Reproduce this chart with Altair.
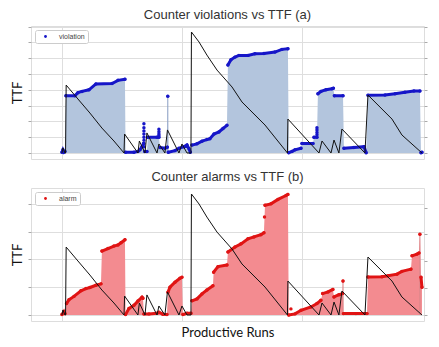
import altair as alt
import pandas as pd

# ---------------- data ----------------
# TTF sawtooth (shared by both panels)
ttf_runs = [0, 8, 25, 30, 35, 133, 233, 333, 433, 517, 522, 633, 645, 692, 708, 792, 808, 858,
            879, 975, 1000, 1042, 1075, 1079, 1142, 1208, 1292, 1417, 1500, 1692, 1879,
            1883, 2142, 2167, 2242, 2267, 2308, 2333, 2525, 2550, 2750, 2833, 3000]
ttf_vals = [0, 32, 0, 0, 430, 342, 253, 158, 76, 0, 120, 0, 76, 0, 127, 0, 57, 0,
            146, 0, 57, 0, 0, 766, 703, 620, 525, 418, 323, 177, 0,
            215, 0, 76, 0, 82, 0, 152, 0, 367, 215, 114, 0]

# Counter violations (panel a)
viol_runs = [0, 8, 17, 25,
             33, 108, 133, 167, 225, 283, 417, 467, 525,
             530, 600, 633, 650, 667, 680,
             690, 708,
             716, 792, 808,
             817, 858, 878,
             882,
             886, 942, 975, 1017, 1042, 1058, 1070,
             1083, 1125, 1167, 1208, 1233, 1267, 1308, 1342, 1375,
             1383, 1408, 1442, 1475, 1550, 1608, 1683, 1775, 1833, 1883,
             1890, 1917, 1942, 1992,
             2000, 2092,
             2100, 2125,
             2133, 2158, 2200, 2250, 2262,
             2270, 2342,
             2350, 2433, 2517, 2535,
             2550, 2692, 2775, 2858, 2933, 2983,
             2992, 3000]
viol_vals = [0.05, 0.2, 0.05, 0.1,
             3.63, 3.63, 3.82, 3.9, 4.0, 4.37, 4.4, 4.6, 4.67,
             0.05, 0.05, 0.1, 0.2, 0.4, 0.6,
             0.1, 0.1,
             1.0, 1.0, 1.0,
             0.35, 0.3, 0.37,
             3.6,
             0.05, 0.15, 0.3, 0.4, 0.5, 0.28, 0.05,
             0.5, 0.58, 0.75, 0.85, 0.9, 1.2, 1.33, 1.55, 1.75,
             5.57, 5.9, 6.07, 6.18, 6.18, 6.28, 6.3, 6.39, 6.56, 6.6,
             0.02, 0.1, 0.2, 0.3,
             0.6, 0.6,
             1.0, 1.0,
             3.75, 3.9, 4.0, 4.07, 4.1,
             3.62, 3.62,
             0.3, 0.35, 0.4, 0.02,
             3.65, 3.67, 3.75, 3.85, 3.92, 3.92,
             0.02, 0.05]
viol_segs = [0, 0, 0, 0,
             1, 1, 1, 1, 1, 1, 1, 1, 1,
             2, 2, 2, 2, 2, 2,
             3, 3,
             4, 4, 4,
             5, 5, 5,
             6,
             7, 7, 7, 7, 7, 7, 7,
             8, 8, 8, 8, 8, 8, 8, 8, 8,
             9, 9, 9, 9, 9, 9, 9, 9, 9, 9,
             10, 10, 10, 10,
             11, 11,
             12, 12,
             13, 13, 13, 13, 13,
             14, 14,
             15, 15, 15, 15,
             16, 16, 16, 16, 16, 16,
             17, 17]
viol_dot_runs = [683, 683, 683, 683, 683, 683, 683, 683, 808, 808, 808, 808, 2125, 2125, 2125, 2125]
viol_dot_vals = [0.4, 0.6, 0.8, 1.0, 1.2, 1.4, 1.6, 1.85, 1.1, 1.2, 1.35, 1.5, 1.15, 1.3, 1.45, 1.6]

# Counter alarms (panel b)
alarm_runs = [0, 8, 17, 25,
              38, 58, 100, 158, 200, 233, 283, 325,
              333, 383, 433, 467, 492, 525,
              530, 558, 600, 633, 667, 675,
              683, 725, 792, 808, 840, 875,
              883, 900, 942, 983, 1000,
              1008, 1042, 1075,
              1083, 1125, 1167, 1208, 1258,
              1264, 1300, 1375,
              1383, 1442, 1492, 1550, 1600, 1658, 1683,
              1692, 1742, 1800, 1867, 1883,
              1890, 1942, 1992, 2075, 2125, 2158,
              2172, 2217, 2258,
              2267, 2308, 2338,
              2342,
              2346, 2450, 2542,
              2550, 2667, 2717, 2792, 2833, 2908,
              2917, 2958, 2975,
              2983,
              2992, 3000]
alarm_vals = [0.02, 0.05, 0.12, 0.05,
              0.41, 0.55, 0.67, 0.87, 0.95, 0.99, 1.07, 1.12,
              2.3, 2.39, 2.48, 2.52, 2.6, 2.71,
              0.02, 0.23, 0.35, 0.5, 0.64, 0.6,
              0.04, 0.04, 0.06, 0.1, 0.03, 0.02,
              0.82, 1.0, 1.18, 1.32, 1.36,
              0.02, 0.06, 0.06,
              0.51, 0.58, 0.76, 0.9, 1.05,
              1.54, 1.74, 1.8,
              2.27, 2.45, 2.56, 2.74, 2.81, 2.89, 2.96,
              3.95, 4.0, 4.16, 4.3, 4.34,
              0.0, 0.04, 0.17, 0.29, 0.41, 0.53,
              0.77, 0.83, 0.92,
              0.65, 0.73, 0.77,
              1.22,
              0.05, 0.05, 0.05,
              1.37, 1.38, 1.41, 1.47, 1.57, 1.65,
              2.13, 2.19, 2.23,
              2.91,
              1.36, 1.0]
alarm_segs = [0, 0, 0, 0,
              1, 1, 1, 1, 1, 1, 1, 1,
              2, 2, 2, 2, 2, 2,
              3, 3, 3, 3, 3, 3,
              4, 4, 4, 4, 4, 4,
              5, 5, 5, 5, 5,
              6, 6, 6,
              7, 7, 7, 7, 7,
              8, 8, 8,
              9, 9, 9, 9, 9, 9, 9,
              10, 10, 10, 10, 10,
              11, 11, 11, 11, 11, 11,
              12, 12, 12,
              13, 13, 13,
              14,
              15, 15, 15,
              16, 16, 16, 16, 16, 16,
              17, 17, 17,
              18,
              19, 19]
alarm_dot_runs = [1688, 1908]
alarm_dot_vals = [3.53, 0.22]

X_TICKS = [0, 1000, 2000]

# ---------------- chart ----------------
X_DOMAIN = [-258, 3017]
GRID = "#dedede"


def panel(runs, vals, segs, dot_runs, dot_vals, series, dot_color, fill_color, spike_color,
          cdomain, cticks, ttf_ticks, title, x_title):
    main = pd.DataFrame({"run": runs, "val": vals, "seg": segs, "series": series})
    dots = pd.DataFrame({"run": dot_runs, "val": dot_vals, "seg": -1, "series": series})
    ttf = pd.DataFrame({"run": ttf_runs, "ttf": ttf_vals})
    # isolated single-point segments are spikes: draw them as thin rules
    counts = main.groupby("seg")["seg"].transform("size")
    spikes = main[counts == 1]

    x_axis_kw = dict(labels=False, ticks=False, domain=False, grid=True, values=X_TICKS,
                     gridColor=GRID, titleFont="Lato", titleFontSize=13,
                     titleFontWeight="normal", titleColor="#111", titlePadding=5,
                     title=x_title if x_title else "")
    x = alt.X("run:Q", scale=alt.Scale(domain=X_DOMAIN, nice=False, zero=False),
              axis=alt.Axis(**x_axis_kw))
    yc = alt.Y("val:Q", scale=alt.Scale(domain=cdomain, nice=False, zero=False),
               axis=alt.Axis(title="TTF", labels=False, ticks=True, tickSize=3,
                             tickColor="#aaaaaa", domain=False, values=cticks, grid=True,
                             gridColor=GRID, titleFont="Lato", titleFontSize=13,
                             titleFontWeight="normal", titleColor="#111", titlePadding=3))

    area = alt.Chart(main).mark_area(color=fill_color, opacity=1).encode(x=x, y=yc)
    spike = alt.Chart(spikes).mark_rule(color=spike_color, strokeWidth=1).encode(
        x=x, y=yc, y2=alt.datum(0))
    line = alt.Chart(main).mark_line(color=dot_color, strokeWidth=3, strokeCap="round").encode(
        x=x, y=yc, detail="seg:N")
    pts = alt.Chart(pd.concat([main, dots])).mark_circle(size=12, opacity=1).encode(
        x=x, y=yc,
        color=alt.Color("series:N", scale=alt.Scale(domain=[series], range=[dot_color]),
                        legend=alt.Legend(title=None, orient="top-left", offset=4, padding=3,
                                          fillColor="white", strokeColor="#cccccc",
                                          cornerRadius=2, labelFontSize=7, labelColor="#444",
                                          labelFont="Liberation Sans", symbolSize=8,
                                          symbolType="circle", labelOffset=10,
                                          symbolOffset=4)))
    tline = alt.Chart(ttf).mark_line(color="#111111", strokeWidth=1).encode(
        x=x,
        y=alt.Y("ttf:Q", scale=alt.Scale(domain=[-38, 804], nice=False, zero=False),
                axis=alt.Axis(orient="right", title="", labels=False, ticks=True, tickSize=3,
                              tickColor="#aaaaaa", domain=False, grid=False, values=ttf_ticks)))

    return alt.layer(alt.layer(area, spike, line, pts), tline).resolve_scale(
        y="independent").properties(
        width=393, height=133,
        title=alt.TitleParams(title, fontSize=13, font="Liberation Sans", fontWeight="normal",
                              color="#333", offset=4, frame="group", anchor="middle"))


top = panel(viol_runs, viol_vals, viol_segs, viol_dot_runs, viol_dot_vals, "violation",
            "#1616c8", "#b3c5dd", "#8a9fc4", [-0.38, 8.04], [0, 1, 2, 3, 4, 5, 6, 7, 8],
            [0, 100, 200, 300, 400, 500, 600, 700, 800],
            "Counter violations vs TTF (a)", None)
bottom = panel(alarm_runs, alarm_vals, alarm_segs, alarm_dot_runs, alarm_dot_vals, "alarm",
               "#e01414", "#f38b90", "#d9868a", [-0.216, 4.57], [0, 1, 2, 3, 4],
               [0, 170, 340, 510, 680],
               "Counter alarms vs TTF (b)", "Productive Runs")

chart = alt.vconcat(top, bottom, spacing=10,
                    padding={"left": 3, "top": 0, "right": 0, "bottom": 0}).resolve_scale(
    color="independent").resolve_legend(color="independent").configure_view(
    stroke="#cccccc", strokeWidth=1).configure(background="white")

chart.save("out.html", embed_options={"renderer": "svg", "actions": False})
